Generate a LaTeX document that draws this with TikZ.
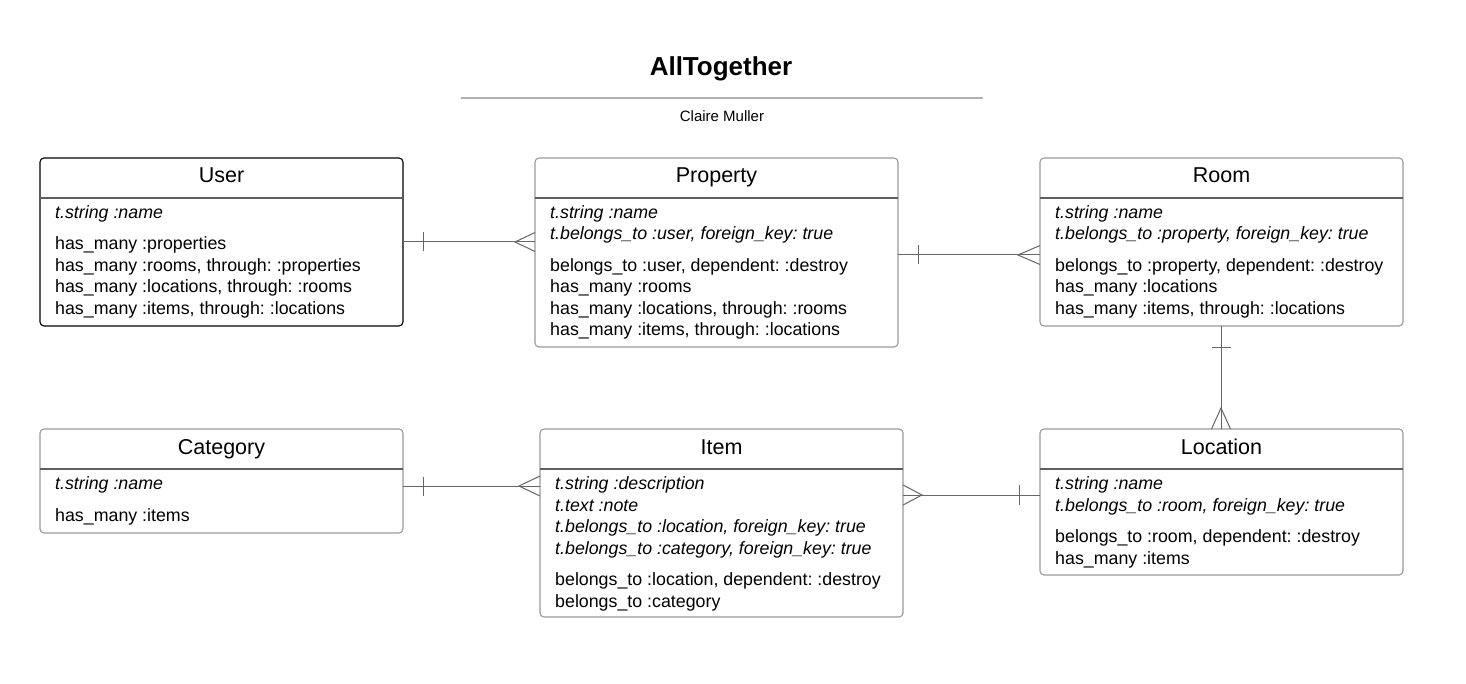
\documentclass[tikz,border=0pt]{standalone}
\usepackage{fontspec}
\setmainfont{Liberation Sans}
\frenchspacing
\definecolor{boxline}{HTML}{9A9A9A}
\definecolor{hdrline}{HTML}{5E5E5E}
\definecolor{connline}{HTML}{666666}
\definecolor{ruleline}{HTML}{B0B0B0}
\tikzset{
  box/.style={draw=boxline, line width=1.1pt, rounded corners=4pt, outer sep=0pt, inner sep=0pt, fill=white},
  box user/.style={draw=black},
  hdr/.style={draw=hdrline, line width=1.1pt},
  ttl/.style={inner sep=0pt, font=\fontsize{21.5}{25}\selectfont},
  attr/.style={inner sep=0pt, font=\fontsize{17.8}{21}\selectfont\itshape},
  meth/.style={inner sep=0pt, font=\fontsize{17.8}{21}\selectfont},
  conn/.style={draw=connline, line width=1pt},
}
% #1 name, #2 x, #3 y, #4 width, #5 height, #6 title, #7 number of attributes, #8 attributes, #9 methods
\newcommand\erbox[9]{%
  \node[box, box #1/.try, minimum width=#4, minimum height=#5, anchor=north west] (#1) at (#2,#3) {};
  \draw[hdr] ([yshift=-40pt]#1.north west) -- ([yshift=-40pt]#1.north east);
  \node[ttl, anchor=base] (#1-title) at (#2+#4/2, #3+25) {#6};
  \foreach \txt [count=\i] in {#8} {\node[attr, anchor=base west] (#1-a\i) at (#2+15, #3+39+21.5*\i) {\txt};}
  \foreach \txt [count=\i] in {#9} {\node[meth, anchor=base west] (#1-m\i) at (#2+15, #3+49+21.5*#7+21.5*\i) {\txt};}
}
\begin{document}
\begin{tikzpicture}[x=1pt, y=-1pt]
\useasboundingbox[fill=white] (0,0) rectangle (1466,684);

% title block
\node[inner sep=0pt, anchor=base, font=\fontsize{26}{30}\selectfont\bfseries] (title) at (721,75.5) {AllTogether};
\coordinate (rl) at (461,98);
\coordinate (rr) at (983,98);
\draw[draw=ruleline, line width=1.5pt] (rl) -- (rr);
\node[inner sep=0pt, anchor=base, font=\fontsize{15}{18}\selectfont] (author) at (722,121.5) {Claire Muller};

% entities
\erbox{user}{40}{158}{363}{168}{User}{1}
  {t.string :name}
  {has\_many :properties, {has\_many :rooms, through: :properties}, {has\_many :locations, through: :rooms}, {has\_many :items, through: :locations}}
\erbox{prop}{535}{158}{363}{189}{Property}{2}
  {t.string :name, {t.belongs\_to :user, foreign\_key: true}}
  {{belongs\_to :user, dependent: :destroy}, has\_many :rooms, {has\_many :locations, through: :rooms}, {has\_many :items, through: :locations}}
\erbox{room}{1040}{158}{363}{168}{Room}{2}
  {t.string :name, {t.belongs\_to :property, foreign\_key: true}}
  {{belongs\_to :property, dependent: :destroy}, has\_many :locations, {has\_many :items, through: :locations}}
\erbox{cat}{40}{429}{363}{104}{Category}{1}
  {t.string :name}
  {has\_many :items}
\erbox{item}{540}{429}{363}{188}{Item}{4}
  {t.string :description, t.text :note, {t.belongs\_to :location, foreign\_key: true}, {t.belongs\_to :category, foreign\_key: true}}
  {{belongs\_to :location, dependent: :destroy}, belongs\_to :category}
\erbox{loc}{1040}{429}{363}{146}{Location}{2}
  {t.string :name, {t.belongs\_to :room, foreign\_key: true}}
  {{belongs\_to :room, dependent: :destroy}, has\_many :items}

% User -- Property
\draw[conn] ([yshift=-84pt]user.north east) -- ([yshift=-84pt]prop.north west);
\draw[conn] ([xshift=20pt,yshift=-74.5pt]user.north east) -- ([xshift=20pt,yshift=-93.5pt]user.north east);
\draw[conn] ([yshift=-74.5pt]prop.north west) -- ([xshift=-20pt,yshift=-84pt]prop.north west) -- ([yshift=-93.5pt]prop.north west);

% Property -- Room
\draw[conn] ([yshift=-97pt]prop.north east) -- ([yshift=-97pt]room.north west);
\draw[conn] ([xshift=20pt,yshift=-87.5pt]prop.north east) -- ([xshift=20pt,yshift=-106.5pt]prop.north east);
\draw[conn] ([yshift=-87.5pt]room.north west) -- ([xshift=-22pt,yshift=-97pt]room.north west) -- ([yshift=-106.5pt]room.north west);

% Room -- Location
\draw[conn] ([xshift=181pt]room.south west) -- ([xshift=181pt]loc.north west);
\draw[conn] ([xshift=171.5pt,yshift=-21pt]room.south west) -- ([xshift=190.5pt,yshift=-21pt]room.south west);
\draw[conn] ([xshift=171.5pt]loc.north west) -- ([xshift=181pt,yshift=21pt]loc.north west) -- ([xshift=190.5pt]loc.north west);

% Category -- Item
\draw[conn] ([yshift=-57pt]cat.north east) -- ([yshift=-57pt]item.north west);
\draw[conn] ([xshift=20pt,yshift=-47.5pt]cat.north east) -- ([xshift=20pt,yshift=-66.5pt]cat.north east);
\draw[conn] ([yshift=-47pt]item.north west) -- ([xshift=-21pt,yshift=-57pt]item.north west) -- ([yshift=-67pt]item.north west);

% Item -- Location
\draw[conn] ([yshift=-66pt]item.north east) -- ([yshift=-66pt]loc.north west);
\draw[conn] ([yshift=-56pt]item.north east) -- ([xshift=19pt,yshift=-66pt]item.north east) -- ([yshift=-76pt]item.north east);
\draw[conn] ([xshift=-21pt,yshift=-56pt]loc.north west) -- ([xshift=-21pt,yshift=-76pt]loc.north west);
\end{tikzpicture}
\end{document}
